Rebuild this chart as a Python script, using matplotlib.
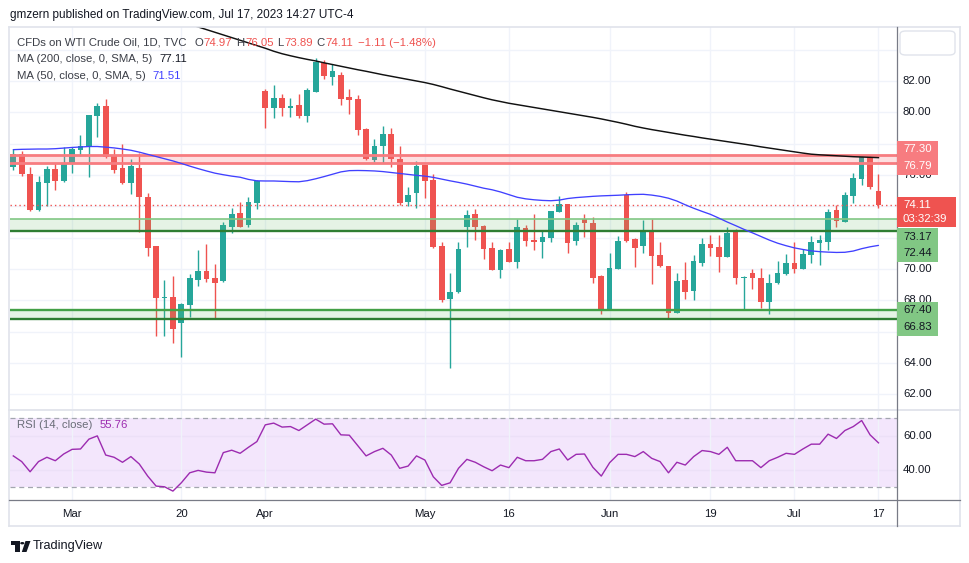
import matplotlib
matplotlib.use('Agg')
import matplotlib.pyplot as plt
import matplotlib.transforms as mtransforms
from matplotlib.patches import Rectangle, FancyBboxPatch, Polygon, Circle

plt.rcParams['font.family'] = ['Liberation Sans', 'DejaVu Sans']

# ---------------- data ----------------
opens = [76.53, 77.34, 76.07, 73.78, 75.51, 76.38, 75.62, 76.72, 77.60, 77.81,
         79.79, 80.40, 77.28, 76.45, 75.51, 76.45, 74.60, 71.47, 68.13, 68.22,
         66.58, 67.71, 69.32, 69.89, 69.43, 69.24, 72.70, 73.58, 72.83, 74.23,
         81.36, 80.30, 80.93, 80.26, 80.47, 79.79, 81.32, 83.13, 82.27, 82.38,
         80.98, 80.85, 78.94, 76.96, 77.87, 78.60, 77.02, 74.30, 74.87, 76.64,
         75.68, 71.47, 68.07, 68.55, 72.70, 73.51, 72.75, 71.34, 69.96, 71.28,
         70.45, 72.62, 71.85, 71.73, 71.98, 73.64, 74.15, 71.79, 73.19, 72.94,
         69.57, 67.47, 70.02, 74.72, 71.92, 71.49, 72.43, 70.90, 70.19, 67.21,
         69.30, 68.62, 70.40, 71.60, 71.41, 70.79, 72.36, 69.43, 69.73, 69.45,
         67.92, 69.13, 69.70, 70.39, 70.02, 70.91, 71.68, 71.75, 73.77, 73.02,
         74.68, 75.77, 77.17, 74.97]
highs = [77.66, 77.53, 76.49, 75.94, 76.58, 76.75, 77.81, 77.81, 78.55, 79.86,
         80.60, 80.85, 77.66, 77.98, 77.02, 77.39, 74.85, 71.50, 69.30, 69.56,
         67.85, 69.68, 71.22, 71.60, 70.34, 73.02, 73.90, 74.28, 74.58, 75.68,
         81.49, 81.74, 81.17, 80.93, 81.17, 81.53, 83.45, 83.34, 83.07, 82.56,
         81.49, 81.11, 79.02, 78.30, 79.13, 79.02, 77.87, 75.25, 76.89, 76.66,
         76.07, 71.73, 69.77, 71.73, 73.75, 73.83, 72.80, 71.73, 71.25, 71.71,
         73.19, 72.83, 73.53, 72.49, 73.73, 74.66, 74.18, 73.00, 73.51, 73.30,
         69.64, 71.02, 72.11, 74.92, 71.95, 73.13, 73.19, 71.73, 70.22, 69.73,
         70.45, 70.88, 71.96, 72.17, 72.17, 72.66, 72.54, 69.56, 69.98, 70.09,
         69.66, 70.51, 70.96, 71.73, 71.26, 72.11, 72.17, 73.83, 74.09, 74.90,
         76.11, 77.28, 77.28, 76.05]
lows = [76.32, 75.94, 73.72, 73.72, 74.04, 75.04, 75.55, 76.15, 77.23, 75.89,
        78.43, 77.10, 76.15, 75.43, 74.81, 72.38, 70.85, 65.75, 65.75, 65.30,
        64.41, 66.96, 68.92, 69.15, 66.86, 69.15, 72.28, 72.66, 72.70, 73.85,
        79.02, 79.66, 79.79, 79.72, 79.66, 79.40, 81.30, 82.13, 81.74, 80.47,
        79.91, 78.55, 76.96, 76.81, 76.79, 76.53, 74.09, 74.02, 73.91, 74.55,
        71.32, 67.92, 63.68, 68.50, 71.39, 71.85, 70.64, 69.93, 69.43, 70.42,
        70.09, 71.47, 71.22, 70.72, 71.73, 73.62, 71.04, 71.53, 72.06, 69.09,
        67.11, 67.44, 70.00, 71.71, 70.15, 71.04, 69.06, 70.13, 66.89, 67.18,
        68.11, 68.02, 70.21, 70.85, 69.83, 70.76, 69.03, 67.39, 68.75, 67.53,
        67.11, 69.04, 69.60, 69.77, 69.98, 70.40, 70.26, 71.22, 72.70, 73.00,
        74.20, 75.38, 75.11, 73.89]
closes = [77.34, 76.08, 73.77, 75.55, 76.38, 75.62, 76.79, 77.66, 77.85, 79.83,
          80.40, 77.13, 76.32, 75.51, 76.58, 74.62, 71.36, 68.17, 68.22, 66.19,
          67.77, 69.43, 69.89, 69.38, 69.13, 72.81, 73.51, 72.70, 74.28, 75.62,
          80.30, 80.93, 80.26, 80.40, 79.79, 81.43, 83.23, 82.34, 82.64, 80.87,
          80.79, 78.89, 77.04, 77.85, 78.60, 77.04, 74.23, 74.72, 76.58, 75.64,
          71.39, 68.02, 68.52, 71.26, 73.47, 72.70, 71.30, 69.96, 71.22, 70.45,
          72.68, 71.79, 71.74, 72.04, 73.70, 74.15, 71.68, 72.81, 72.92, 69.45,
          67.47, 70.07, 71.79, 71.79, 71.36, 72.38, 70.85, 70.19, 67.21, 69.24,
          68.55, 70.51, 71.60, 71.36, 70.79, 72.32, 69.45, 69.49, 69.45, 67.92,
          69.09, 69.73, 70.39, 70.02, 70.96, 71.73, 71.85, 73.66, 73.09, 74.72,
          75.83, 77.17, 75.22, 74.11]

ma50 = [77.62, 77.64, 77.65, 77.66, 77.66, 77.68, 77.72, 77.76, 77.79, 77.82,
        77.82, 77.78, 77.73, 77.66, 77.58, 77.46, 77.32, 77.18, 77.04, 76.90,
        76.74, 76.57, 76.41, 76.26, 76.12, 76.02, 75.93, 75.86, 75.72, 75.63,
        75.62, 75.62, 75.60, 75.58, 75.57, 75.64, 75.76, 75.90, 76.05, 76.20,
        76.28, 76.29, 76.28, 76.26, 76.22, 76.16, 76.10, 76.04, 75.98, 75.93,
        75.85, 75.74, 75.63, 75.53, 75.42, 75.29, 75.16, 75.06, 74.92, 74.75,
        74.58, 74.48, 74.42, 74.38, 74.36, 74.40, 74.50, 74.56, 74.60, 74.64,
        74.67, 74.69, 74.71, 74.74, 74.76, 74.77, 74.72, 74.64, 74.52, 74.34,
        74.10, 73.88, 73.68, 73.49, 73.25, 73.00, 72.77, 72.53, 72.31, 72.08,
        71.85, 71.65, 71.49, 71.35, 71.25, 71.16, 71.11, 71.08, 71.06, 71.07,
        71.15, 71.30, 71.42, 71.51]

ma200_start = 21
ma200 = [85.62, 85.45, 85.28, 85.11, 84.94, 84.77, 84.60, 84.43, 84.26, 84.09,
         83.90, 83.74, 83.61, 83.49, 83.38, 83.28, 83.16, 83.05, 82.94, 82.83,
         82.72, 82.62, 82.51, 82.40, 82.30, 82.20, 82.10, 82.00, 81.90, 81.78,
         81.64, 81.49, 81.35, 81.21, 81.07, 80.93, 80.80, 80.69, 80.58, 80.49,
         80.40, 80.31, 80.22, 80.13, 80.04, 79.95, 79.86, 79.77, 79.68, 79.58,
         79.47, 79.36, 79.24, 79.11, 79.00, 78.90, 78.81, 78.72, 78.63, 78.54,
         78.46, 78.37, 78.29, 78.21, 78.13, 78.05, 77.97, 77.89, 77.80, 77.72,
         77.64, 77.56, 77.48, 77.40, 77.33, 77.29, 77.26, 77.23, 77.20, 77.17,
         77.15, 77.13, 77.11]

rsi = [48.2, 44.9, 39.0, 44.9, 47.4, 45.4, 49.3, 52.0, 52.2, 57.9,
       59.8, 48.7, 47.4, 44.5, 47.8, 43.5, 36.5, 30.7, 30.3, 27.8,
       32.6, 38.4, 39.8, 38.8, 38.4, 50.1, 51.5, 49.7, 53.2, 56.5,
       66.2, 67.2, 64.9, 65.2, 62.9, 66.2, 69.5, 66.6, 66.8, 60.4,
       60.2, 54.2, 48.2, 50.7, 52.6, 48.7, 41.0, 42.3, 48.2, 45.8,
       36.1, 31.1, 32.6, 41.0, 46.2, 44.5, 41.9, 39.6, 42.9, 41.4,
       47.4, 45.4, 45.4, 46.2, 50.7, 52.2, 45.8, 49.1, 49.3, 41.6,
       36.5, 44.3, 49.1, 49.1, 47.8, 50.7, 46.8, 44.9, 38.4, 44.5,
       42.9, 47.8, 51.3, 50.7, 49.1, 53.2, 45.4, 45.4, 45.4, 41.4,
       45.4, 47.4, 49.7, 49.1, 52.2, 55.0, 55.0, 60.8, 58.3, 62.9,
       65.2, 68.7, 60.4, 55.76]

xtick_pos = [7, 20, 30, 49, 59, 71, 83, 93, 103]
xtick_labels = ['Mar', '20', 'Apr', 'May', '16', 'Jun', '19', 'Jul', '17']
price_grid = [62, 64, 66, 68, 70, 72, 74, 76, 78, 80, 82, 84]
price_labels = [82, 80, 76, 70, 68, 64, 62]
rsi_labels = [60, 40]

red_zone = (76.79, 77.30)
green_zone_hi = (72.44, 73.17)
green_zone_lo = (66.83, 67.40)
last_price = 74.11
countdown = '03:32:39'

# ---------------- figure ----------------
W, H = 970, 563
fig = plt.figure(figsize=(W / 100, H / 100), dpi=100)
fig.patch.set_facecolor('white')

def fx(x):
    return x / W

def fy(y):
    return 1 - y / H

PL, PR = 10, 896.7
ax = fig.add_axes([fx(PL), fy(409), fx(PR) - fx(PL), (409 - 27) / H])
axr = fig.add_axes([fx(PL), fy(500), fx(PR) - fx(PL), (500 - 410) / H])
for a in (ax, axr):
    a.set_xlim(-0.393, 105.17)
    for s in a.spines.values():
        s.set_visible(False)
    a.set_xticks([])
    a.set_yticks([])
    a.set_facecolor('white')
ax.set_ylim(61.07, 85.446)
axr.set_ylim(22.64, 74.8)

UP, DN = '#26a69a', '#ef5350'
GRID = '#f0f3fa'

# grid
for g in price_grid:
    ax.axhline(g, color=GRID, lw=1, zorder=0)
for a in (ax, axr):
    for p in xtick_pos:
        a.axvline(p, color=GRID, lw=1, zorder=0.5)

# candles
n = len(opens)
for i in range(n):
    o, h, l, c = opens[i], highs[i], lows[i], closes[i]
    col = UP if c >= o else DN
    ax.vlines(i, l, h, color=col, lw=1.0, zorder=3)
    lo_b = min(o, c)
    hgt = max(abs(c - o), 0.05)
    ax.bar(i, hgt, bottom=lo_b, width=0.67, color=col, edgecolor=col, lw=0, zorder=3)

# zones
ax.axhspan(*red_zone, color='#f77c80', alpha=0.24, lw=0, zorder=4)
for v in red_zone:
    ax.axhline(v, color='#f77c80', lw=2.0, zorder=4.5)
ax.axhspan(*green_zone_hi, color='#66bb6a', alpha=0.17, lw=0, zorder=4)
ax.axhline(green_zone_hi[1], color='#81c784', lw=1.2, zorder=4.5)
ax.axhline(green_zone_hi[0], color='#2e7d32', lw=1.7, zorder=4.5)
ax.axhspan(*green_zone_lo, color='#66bb6a', alpha=0.17, lw=0, zorder=4)
ax.axhline(green_zone_lo[1], color='#43a047', lw=1.7, zorder=4.5)
ax.axhline(green_zone_lo[0], color='#2e7d32', lw=1.7, zorder=4.5)

# last price dotted line
ax.axhline(last_price, color='#ef5350', lw=1.0, ls=(0, (1, 2.2)), zorder=4.6)

# moving averages
ax.plot(range(len(ma50)), ma50, color='#4040ff', lw=0.95, zorder=5, solid_capstyle='round')
ax.plot(range(ma200_start, ma200_start + len(ma200)), ma200, color='#111111', lw=1.05, zorder=5)

# RSI pane
axr.axhspan(30, 70, color='#f3e6fc', lw=0, zorder=0.2)
for g in rsi_labels:
    axr.axhline(g, color='#ece0f7', lw=1, zorder=0.3)
for v in (70, 30):
    axr.axhline(v, color='#a3a6af', lw=0.9, ls=(0, (4, 3)), zorder=1)
axr.plot(range(len(rsi)), rsi, color='#9c2bb0', lw=1.0, zorder=3)

# separators / frame
def hline_px(y, x0, x1, color, lw):
    fig.add_artist(plt.Line2D([fx(x0), fx(x1)], [fy(y), fy(y)], color=color, lw=lw))

def vline_px(x, y0, y1, color, lw):
    fig.add_artist(plt.Line2D([fx(x), fx(x)], [fy(y0), fy(y1)], color=color, lw=lw))

hline_px(26.5, 9, 960, '#e0e3eb', 1.2)
hline_px(525.5, 9, 960, '#e0e3eb', 1.2)
vline_px(9, 26.5, 525.5, '#e0e3eb', 1.2)
vline_px(960, 26.5, 525.5, '#e0e3eb', 1.2)
hline_px(409.5, 9, 960, '#e0e3eb', 1.3)
hline_px(500.3, 9, 960, '#787b86', 0.9)
vline_px(PR, 26.5, 525.5, '#787b86', 0.9)

TXT = '#131722'
FS = 8.2

# price axis labels
btr = mtransforms.blended_transform_factory(fig.transFigure, ax.transData)
for v in price_labels:
    fig.text(fx(903), v, f'{v:.2f}', transform=btr, fontsize=FS, color=TXT, va='center', ha='left', zorder=2)
btr_r = mtransforms.blended_transform_factory(fig.transFigure, axr.transData)
for v in rsi_labels:
    fig.text(fx(903), v, f'{v:.2f}', transform=btr_r, fontsize=FS, color=TXT, va='center', ha='left')

# top-right box
fig.add_artist(FancyBboxPatch((fx(900), fy(55)), fx(955) - fx(900), (55 - 31) / H,
                              boxstyle='round,pad=0,rounding_size=0.006',
                              transform=fig.transFigure, fc='white', ec='#e0e3eb', lw=1.0, zorder=6))

# value label boxes (pixel placement derived from data values, shifted to avoid collisions)
def ypix(v):
    return H - ax.transData.transform((0, v))[1]

def label_box(vals, lines, fc, tc, x1, shift):
    yc = (ypix(vals[0]) + ypix(vals[-1])) / 2 + shift
    top, bot = yc - 17, yc + 17
    fig.add_artist(Rectangle((fx(PR + 0.5), fy(bot)), fx(x1) - fx(PR + 0.5), (bot - top) / H,
                             transform=fig.transFigure, fc=fc, ec='none', zorder=7))
    fig.text(fx(903), fy(yc - 8.3), lines[0], fontsize=FS, color=tc, va='center', ha='left', zorder=8)
    fig.text(fx(903), fy(yc + 8.3), lines[1], fontsize=FS, color=tc, va='center', ha='left', zorder=8)

label_box([red_zone[1], red_zone[0]], [f'{red_zone[1]:.2f}', f'{red_zone[0]:.2f}'], '#f77c80', 'white', 938, -1.0)
label_box([green_zone_hi[1], green_zone_hi[0]], [f'{green_zone_hi[1]:.2f}', f'{green_zone_hi[0]:.2f}'], '#81c784', TXT, 938, 20.0)
label_box([green_zone_lo[1], green_zone_lo[0]], [f'{green_zone_lo[1]:.2f}', f'{green_zone_lo[0]:.2f}'], '#81c784', TXT, 938, 4.4)
# last price box
yc = ypix(last_price) + 7.5
fig.add_artist(Rectangle((fx(PR + 0.5), fy(yc + 15)), fx(956) - fx(PR + 0.5), 30 / H,
                         transform=fig.transFigure, fc='#ef5350', ec='none', zorder=7))
fig.text(fx(903), fy(yc - 7), f'{last_price:.2f}', fontsize=FS, color='white', va='center', ha='left', zorder=8)
fig.text(fx(903), fy(yc + 7), countdown, fontsize=FS, color='white', va='center', ha='left', zorder=8)

# time axis labels
bt = mtransforms.blended_transform_factory(ax.transData, fig.transFigure)
for p, lab in zip(xtick_pos, xtick_labels):
    fig.text(p, fy(514), lab, transform=bt, fontsize=FS, color=TXT, ha='center', va='center')

# legends (sequential text pieces)
fig.canvas.draw()
renderer = fig.canvas.get_renderer()

def seq(x, y, parts, fs=FS):
    for txt, col, gap in parts:
        t = fig.text(fx(x), fy(y), txt, fontsize=fs, color=col, ha='left', va='center', zorder=9)
        bb = t.get_window_extent(renderer)
        x += bb.width + gap

RED = '#ef5350'
seq(10, 15, [('gmzern published on TradingView.com, Jul 17, 2023 14:27 UTC-4', TXT, 0)], fs=8.5)
seq(17, 42.7, [('CFDs on WTI Crude Oil, 1D, TVC', '#3b3e47', 8),
               ('O', '#3b3e47', 0.5), ('74.97', RED, 4),
               ('H', '#3b3e47', 0.5), ('76.05', RED, 4),
               ('L', '#3b3e47', 0.5), ('73.89', RED, 4),
               ('C', '#3b3e47', 0.5), ('74.11', RED, 5),
               ('\u22121.11 (\u22121.48%)', RED, 0)])
seq(17, 59.3, [('MA (200, close, 0, SMA, 5)', '#3b3e47', 7), ('77.11', '#131722', 0)])
seq(17, 76, [('MA (50, close, 0, SMA, 5)', '#3b3e47', 7), ('71.51', '#4040ff', 0)])
seq(17, 424.5, [('RSI (14, close)', '#6a6d78', 7), ('55.76', '#9c2bb0', 0)])

# TradingView logo
def P(x, y):
    return (fx(x), fy(y))

LOGO = '#131722'
fig.add_artist(Polygon([P(11, 541), P(19.5, 541), P(19.5, 552), P(15.5, 552), P(15.5, 545), P(11, 545)],
                       closed=True, transform=fig.transFigure, fc=LOGO, ec='none'))
fig.add_artist(Circle(P(22.3, 543.2), 2.1 / W, transform=fig.transFigure, fc=LOGO, ec='none'))
fig.add_artist(Polygon([P(25.5, 541), P(30.5, 541), P(26.5, 552), P(21.8, 552)],
                       closed=True, transform=fig.transFigure, fc=LOGO, ec='none'))
fig.text(fx(33), fy(546.5), 'TradingView', fontsize=9.2, color=LOGO, ha='left', va='center')

fig.savefig('out.png', dpi=100, facecolor='white')
